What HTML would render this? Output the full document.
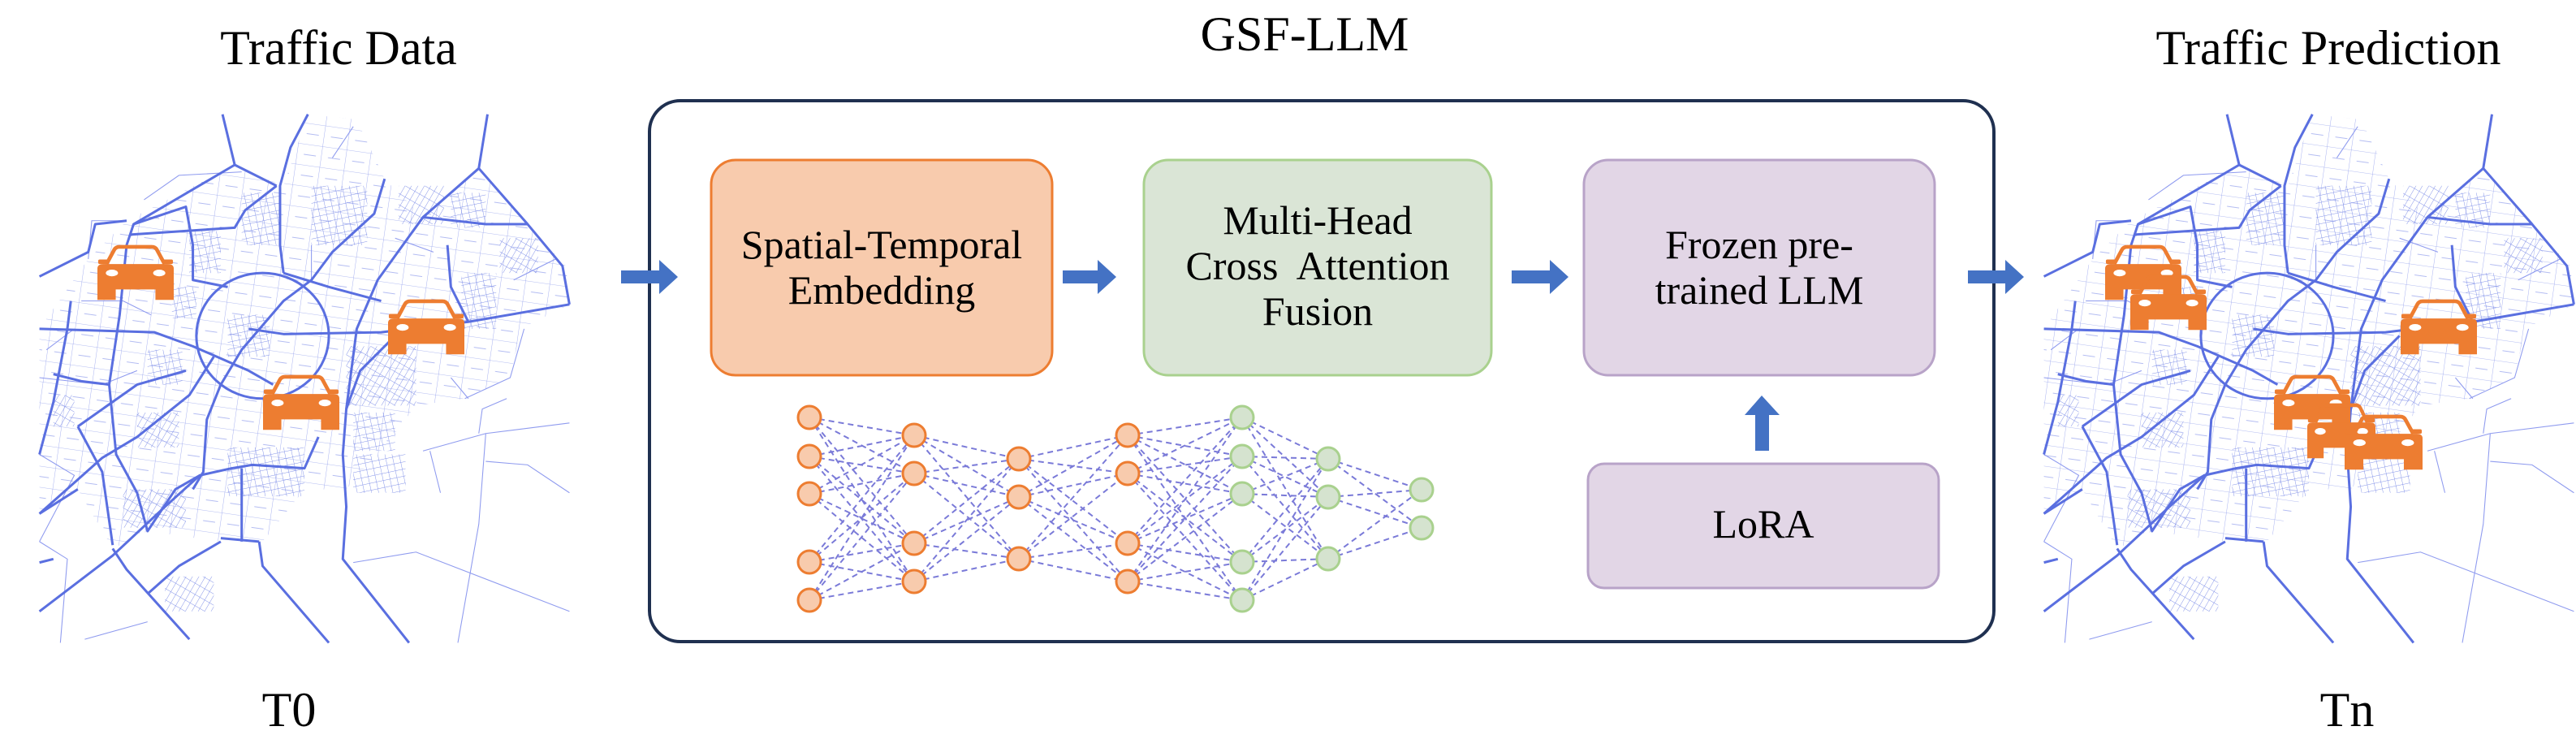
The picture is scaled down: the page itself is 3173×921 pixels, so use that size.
<!DOCTYPE html>
<html><head><meta charset="utf-8"><style>
html,body{margin:0;padding:0;background:#fff;}
svg{display:block;}
text{font-family:"Liberation Serif",serif;fill:#000;}
</style></head><body>
<svg width="3173" height="921" viewBox="0 0 3173 921" xmlns="http://www.w3.org/2000/svg">
<defs>
<pattern id="grid" width="20" height="20" patternUnits="userSpaceOnUse" patternTransform="rotate(-12)">
<path d="M0 0H20M0 0V20" stroke="#7f8fe8" stroke-width="2.2" fill="none"/>
</pattern>
<pattern id="grid2" width="16" height="28" patternUnits="userSpaceOnUse" patternTransform="rotate(30)">
<path d="M0 0H16M0 0V28" stroke="#7f8fe8" stroke-width="2.2" fill="none"/>
</pattern>
<pattern id="sparse" width="70" height="60" patternUnits="userSpaceOnUse" patternTransform="rotate(8)">
<path d="M0 0H70M0 0V60M20 30H55" stroke="#9aa6ee" stroke-width="2" fill="none"/>
</pattern>
<g id="map">
 <!-- sparse background texture -->
 <path d="M160 440 L270 330 L580 170 L720 230 L790 25 L930 40 L1010 210 L1120 320 L1280 180 L1420 340 L1530 460 L1540 570 L1400 640 L1370 780 L1240 840 L1100 860 L1000 990 L900 1100 L780 1100 L660 1250 L540 1250 L330 1220 L230 1270 L130 1100 L20 1170 L20 640 Z" fill="url(#sparse)"/>
 <g fill="url(#grid)">
  <rect x="450" y="360" width="90" height="120"/>
  <rect x="600" y="250" width="110" height="150"/>
  <rect x="800" y="230" width="160" height="170"/>
  <rect x="1200" y="250" width="100" height="100"/>
  <rect x="1230" y="480" width="100" height="160"/>
  <rect x="560" y="980" width="220" height="140"/>
  <rect x="920" y="1000" width="150" height="110"/>
  <rect x="330" y="700" width="100" height="100"/>
  <rect x="560" y="600" width="120" height="120"/>
  <rect x="920" y="880" width="120" height="110"/>
  <rect x="400" y="520" width="70" height="90"/>
 </g>
 <g fill="url(#grid2)">
  <rect x="260" y="1100" width="180" height="110"/>
  <rect x="380" y="1350" width="140" height="100"/>
  <rect x="900" y="690" width="200" height="170"/>
  <rect x="1050" y="230" width="130" height="110"/>
  <rect x="300" y="880" width="120" height="100"/>
  <rect x="60" y="830" width="60" height="90"/>
  <rect x="1340" y="380" width="110" height="100"/>
 </g>
 <g fill="none" stroke="#8f9bef" stroke-width="2.5">
  <path d="M20 1000 L120 1060 L20 1250"/>
  <path d="M1120 990 L1300 940 L1540 910"/>
  <path d="M920 1310 L1100 1280 L1540 1450"/>
  <path d="M1300 940 L1280 1200 L1220 1540"/>
  <path d="M1140 990 L1170 1110"/>
  <path d="M1300 1020 L1420 1030 L1540 1110"/>
  <path d="M1360 840 L1290 870 L1280 940"/>
  <path d="M20 1250 L100 1300 L80 1540"/>
  <path d="M150 1530 L330 1480"/>
  <path d="M1240 840 L1370 780 L1410 640"/>
  <path d="M1200 780 L1250 840"/>
  <path d="M160 440 L170 330 L270 330"/>
  <path d="M320 270 L420 200 L600 190"/>
  <path d="M860 150 L920 60"/>
  <path d="M40 700 L120 640"/>
  <path d="M20 780 L200 800 L300 760"/>
  <path d="M140 560 L260 560 L340 600"/>
  <path d="M800 400 L800 500"/>
  <path d="M1040 380 L1150 420"/>
  <path d="M1380 500 L1500 440"/>
 </g>
 <g fill="none" stroke="#5a6fe0" stroke-width="7" stroke-linejoin="round">
  <path d="M545 25 L580 170"/>
  <path d="M580 170 L290 340 L270 400 L250 600 L220 800 L240 1000 L300 1110 L330 1220 L410 1100 L480 1060"/>
  <path d="M580 170 L700 230"/>
  <path d="M790 25 L740 120 L710 230 L710 400 L720 480"/>
  <ellipse cx="660" cy="660" rx="190" ry="180"/>
  <path d="M20 640 L350 650 L460 690 L620 760 L690 800"/>
  <path d="M620 640 L720 655 L1000 650 L1250 620 L1540 570"/>
  <path d="M20 490 L160 420 L180 340 L270 330"/>
  <path d="M1305 25 L1280 180 L1120 320 L990 500 L930 640 L900 870 L890 1000 L900 1150 L890 1300 L1080 1540"/>
  <path d="M1280 180 L1420 340 L1520 460 L1540 570"/>
  <path d="M1010 210 L980 310 L860 420 L800 500 L720 560 L600 700 L540 800 L500 900 L490 1050 L460 1100"/>
  <path d="M20 1170 L200 1010 L300 950 L450 830 L520 720"/>
  <path d="M20 1450 L230 1290 L380 1150 L480 1060 L570 1040 L630 1030 L780 1040 L820 950"/>
  <path d="M650 1250 L660 1320 L850 1540"/>
  <path d="M540 1250 L420 1320 L330 1400"/>
  <path d="M230 1270 L270 1330 L450 1530"/>
  <path d="M20 1000 L60 850 L100 640 L110 560"/>
  <path d="M130 920 L200 1050 L230 1260"/>
  <path d="M900 870 L940 760 L1040 660"/>
  <path d="M1120 320 L1300 340 L1420 340"/>
  <path d="M1190 400 L1200 520 L1250 620"/>
  <path d="M290 340 L440 290 L460 400 L460 500 L560 520"/>
  <path d="M280 370 L580 350 L610 300 L700 230"/>
  <path d="M540 1240 L650 1250"/>
  <path d="M130 920 L300 800 L440 760"/>
  <path d="M60 770 L140 790 L220 800"/>
  <path d="M720 480 L850 520 L1000 560"/>
  <path d="M600 1040 L600 1250"/>
  <path d="M20 1310 L60 1300"/>
  <path d="M130 1100 L20 1170"/>
 </g>
</g>
<g id="car">
 <path d="M12 24 L22 5 Q24 1 29 1 L71 1 Q76 1 78 5 L88 24" fill="none" stroke="#ed7d31" stroke-width="5"/>
 <rect x="1" y="18" width="14" height="6" rx="2" fill="#ed7d31"/>
 <rect x="85" y="18" width="14" height="6" rx="2" fill="#ed7d31"/>
 <path d="M0 30 Q0 24 8 24 L92 24 Q100 24 100 30 L100 72 L76 72 L76 58 L24 58 L24 72 L0 72 Z" fill="#ed7d31"/>
 <ellipse cx="19" cy="36" rx="8" ry="4.5" fill="#fff"/>
 <ellipse cx="81" cy="36" rx="8" ry="4.5" fill="#fff"/>
</g>
<marker id="nm" markerWidth="6" markerHeight="6" refX="5" refY="3" orient="auto"><path d="M0 0L6 3L0 6" fill="none" stroke="#7a7ad8" stroke-width="1"/></marker>
</defs>

<!-- titles -->
<text x="417" y="79" font-size="60" text-anchor="middle">Traffic Data</text>
<text x="1607" y="62" font-size="60" text-anchor="middle">GSF-LLM</text>
<text x="2868" y="79" font-size="60" text-anchor="middle">Traffic Prediction</text>
<text x="356" y="894" font-size="60" text-anchor="middle">T0</text>
<text x="2891" y="894" font-size="60" text-anchor="middle">Tn</text>

<!-- maps -->
<g transform="translate(40,130) scale(0.4295)"><use href="#map"/></g>
<g transform="translate(2509,130) scale(0.4295)"><use href="#map"/></g>

<!-- cars -->
<g transform="translate(120,303) scale(0.94,0.92)"><use href="#car"/></g>
<g transform="translate(478,370) scale(0.94,0.92)"><use href="#car"/></g>
<g transform="translate(324,463) scale(0.94,0.92)"><use href="#car"/></g>
<g transform="translate(2593,303) scale(0.94,0.92)"><use href="#car"/></g>
<g transform="translate(2624,340) scale(0.94,0.92)"><use href="#car"/></g>
<g transform="translate(2957,370) scale(0.94,0.92)"><use href="#car"/></g>
<g transform="translate(2801,463) scale(0.94,0.92)"><use href="#car"/></g>
<g transform="translate(2842,498) scale(0.84,0.92)"><use href="#car"/></g>
<g transform="translate(2888,512) scale(0.96,0.92)"><use href="#car"/></g>

<!-- main box -->
<rect x="800" y="124" width="1656" height="666" rx="38" fill="none" stroke="#1f3050" stroke-width="4"/>

<!-- boxes -->
<rect x="876" y="197" width="420" height="265" rx="30" fill="#f8cbad" stroke="#ed7d31" stroke-width="3"/>
<rect x="1409" y="197" width="428" height="265" rx="30" fill="#dae5d6" stroke="#a9d18e" stroke-width="3"/>
<rect x="1951" y="197" width="432" height="265" rx="30" fill="#e2d6e6" stroke="#b8a3c8" stroke-width="3"/>
<rect x="1956" y="571" width="432" height="153" rx="20" fill="#e2d6e6" stroke="#b8a3c8" stroke-width="3"/>

<text x="1086" y="318" font-size="50" text-anchor="middle">Spatial-Temporal</text>
<text x="1086" y="374" font-size="50" text-anchor="middle">Embedding</text>
<text x="1623" y="288" font-size="50" text-anchor="middle">Multi-Head</text>
<text x="1623" y="344" font-size="50" text-anchor="middle" xml:space="preserve">Cross  Attention</text>
<text x="1623" y="400" font-size="50" text-anchor="middle">Fusion</text>
<text x="2167" y="318" font-size="50" text-anchor="middle">Frozen pre-</text>
<text x="2167" y="374" font-size="50" text-anchor="middle">trained LLM</text>
<text x="2172" y="662" font-size="50" text-anchor="middle">LoRA</text>

<!-- arrows -->
<g fill="#4472c4">
 <path d="M765 333 H812 V320 L835 341 L812 362 V349 H765 Z"/>
 <path d="M1309 333 H1352 V320 L1375 341 L1352 362 V349 H1309 Z"/>
 <path d="M1862 333 H1909 V320 L1932 341 L1909 362 V349 H1862 Z"/>
 <path d="M2424 333 H2470 V320 L2493 341 L2470 362 V349 H2424 Z"/>
 <path d="M2162 555 V511 H2149 L2170 487 L2192 511 H2179 V555 Z"/>
</g>

<!-- neural net -->
<g id="nn"></g>
<g fill="none" stroke="#7a7ad8" stroke-width="2" stroke-dasharray="7 5">
<path d="
M997 514L1126 536M997 514L1126 583M997 514L1126 669M997 514L1126 716
M997 562L1126 536M997 562L1126 583M997 562L1126 669M997 562L1126 716
M997 608L1126 536M997 608L1126 583M997 608L1126 669M997 608L1126 716
M997 692L1126 536M997 692L1126 583M997 692L1126 669M997 692L1126 716
M997 739L1126 536M997 739L1126 583M997 739L1126 669M997 739L1126 716
M1126 536L1255 565M1126 536L1255 612M1126 536L1255 688
M1126 583L1255 565M1126 583L1255 612M1126 583L1255 688
M1126 669L1255 565M1126 669L1255 612M1126 669L1255 688
M1126 716L1255 565M1126 716L1255 612M1126 716L1255 688
M1255 565L1389 536M1255 565L1389 583M1255 565L1389 669M1255 565L1389 716
M1255 612L1389 536M1255 612L1389 583M1255 612L1389 669M1255 612L1389 716
M1255 688L1389 536M1255 688L1389 583M1255 688L1389 669M1255 688L1389 716
M1389 536L1530 514M1389 536L1530 562M1389 536L1530 608M1389 536L1530 692M1389 536L1530 739
M1389 583L1530 514M1389 583L1530 562M1389 583L1530 608M1389 583L1530 692M1389 583L1530 739
M1389 669L1530 514M1389 669L1530 562M1389 669L1530 608M1389 669L1530 692M1389 669L1530 739
M1389 716L1530 514M1389 716L1530 562M1389 716L1530 608M1389 716L1530 692M1389 716L1530 739
M1530 514L1636 565M1530 514L1636 612M1530 514L1636 688
M1530 562L1636 565M1530 562L1636 612M1530 562L1636 688
M1530 608L1636 565M1530 608L1636 612M1530 608L1636 688
M1530 692L1636 565M1530 692L1636 612M1530 692L1636 688
M1530 739L1636 565M1530 739L1636 612M1530 739L1636 688
M1636 565L1751 603M1636 565L1751 650
M1636 612L1751 603M1636 612L1751 650
M1636 688L1751 603M1636 688L1751 650"/>
</g>
<g fill="#f8cbad" stroke="#ed7d31" stroke-width="3">
 <circle cx="997" cy="514" r="14"/><circle cx="997" cy="562" r="14"/><circle cx="997" cy="608" r="14"/><circle cx="997" cy="692" r="14"/><circle cx="997" cy="739" r="14"/>
 <circle cx="1126" cy="536" r="14"/><circle cx="1126" cy="583" r="14"/><circle cx="1126" cy="669" r="14"/><circle cx="1126" cy="716" r="14"/>
 <circle cx="1255" cy="565" r="14"/><circle cx="1255" cy="612" r="14"/><circle cx="1255" cy="688" r="14"/>
 <circle cx="1389" cy="536" r="14"/><circle cx="1389" cy="583" r="14"/><circle cx="1389" cy="669" r="14"/><circle cx="1389" cy="716" r="14"/>
</g>
<g fill="#d5e3cf" stroke="#a9d18e" stroke-width="3">
 <circle cx="1530" cy="514" r="14"/><circle cx="1530" cy="562" r="14"/><circle cx="1530" cy="608" r="14"/><circle cx="1530" cy="692" r="14"/><circle cx="1530" cy="739" r="14"/>
 <circle cx="1636" cy="565" r="14"/><circle cx="1636" cy="612" r="14"/><circle cx="1636" cy="688" r="14"/>
 <circle cx="1751" cy="603" r="14"/><circle cx="1751" cy="650" r="14"/>
</g>
</svg>
</body></html>
